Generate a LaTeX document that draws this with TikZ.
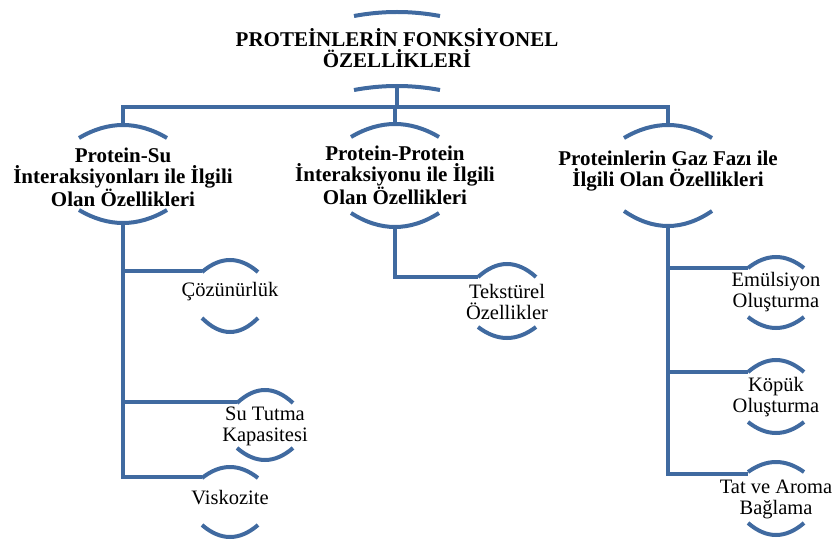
\documentclass[tikz,border=0pt]{standalone}
\usepackage{fontspec}
\setmainfont{Liberation Serif}
\definecolor{smblue}{RGB}{64,106,160}
\newcommand\toparc[4]{% cx, apex y, half width, sag (frown)
  \draw[arcline] (#1-#3,#2+#4) .. controls (#1-#3/3,#2-#4/3) and (#1+#3/3,#2-#4/3) .. (#1+#3,#2+#4);}
\newcommand\botarc[4]{% cx, apex y, half width, sag (smile)
  \draw[arcline] (#1-#3,#2-#4) .. controls (#1-#3/3,#2+#4/3) and (#1+#3/3,#2+#4/3) .. (#1+#3,#2-#4);}
\begin{document}
\begin{tikzpicture}[x=1pt,y=-1pt,
  arcline/.style={draw=smblue,line width=4pt},
  conn/.style={draw=smblue,line width=4.2pt,line join=miter},
  hdr/.style={font=\bfseries\fontsize{21}{21}\selectfont,align=center,inner sep=0pt},
  lbl/.style={font=\fontsize{20.5}{21}\selectfont,align=center,inner sep=0pt}]
\useasboundingbox (0,0) rectangle (837,545);
% ---- text nodes
\node[hdr] (root) at (397,48) {PROTEİNLERİN FONKSİYONEL\\ÖZELLİKLERİ};
\node[hdr] (n1) at (123,177) {Protein-Su\\İnteraksiyonları ile İlgili\\Olan Özellikleri};
\node[hdr] (n2) at (395,175) {Protein-Protein\\İnteraksiyonu ile İlgili\\Olan Özellikleri};
\node[hdr] (n3) at (668,171) {Proteinlerin Gaz Fazı ile\\İlgili Olan Özellikleri};
\node[lbl] (c1) at (230,292) {Çözünürlük};
\node[lbl] (c2) at (265,426) {Su Tutma\\Kapasitesi};
\node[lbl] (c3) at (230,498) {Viskozite};
\node[lbl] (d1) at (507,302) {Tekstürel\\Özellikler};
\node[lbl] (e1) at (776,292) {Emülsiyon\\Oluşturma};
\node[lbl] (e2) at (776,397) {Köpük\\Oluşturma};
\node[lbl] (e3) at (776,499) {Tat ve Aroma\\Bağlama};
% ---- arcs (node outlines)
\toparc{397}{12}{43}{4}  \toparc{397}{86}{43}{4}
\toparc{123}{125}{44}{13} \botarc{123}{223}{44}{13}
\toparc{395}{124}{44}{13} \botarc{395}{227}{44}{14}
\toparc{668}{125}{44}{13} \botarc{668}{226}{44}{15}
\toparc{230}{260}{28}{12} \botarc{230}{332}{28}{14}
\toparc{265}{390}{28}{13} \botarc{265}{460}{28}{12}
\toparc{230}{467}{28}{11} \botarc{230}{537}{28}{12}
\toparc{507}{264}{29}{13} \botarc{507}{338}{29}{11}
\toparc{776}{257}{28}{11} \botarc{776}{328}{28}{11}
\toparc{776}{360}{28}{12} \botarc{776}{433}{28}{11}
\toparc{776}{462}{28}{10} \botarc{776}{535}{28}{12}
% ---- connector anchor points
\coordinate (rootb) at (397,86);
\coordinate (bus) at (397,107);
\coordinate (n1t) at (123,125); \coordinate (n1b) at (123,223);
\coordinate (n2t) at (395,124); \coordinate (n2b) at (395,227);
\coordinate (n3t) at (668,125); \coordinate (n3b) at (668,226);
\coordinate (c1l) at (202,271);
\coordinate (c2l) at (237,402);
\coordinate (c3l) at (202,477);
\coordinate (d1l) at (478,277);
\coordinate (e1l) at (748,268);
\coordinate (e2l) at (748,372);
\coordinate (e3l) at (748,474);
% ---- connectors
\draw[conn] (rootb) -- (bus);
\draw[conn] (n1t) |- (bus) -| (n3t);
\draw[conn] (n2t) -- (n2t |- bus);
\draw[conn] (n1b) |- (c3l);
\draw[conn] (n1b |- c1l) -- (c1l);
\draw[conn] (n1b |- c2l) -- (c2l);
\draw[conn] (n2b) |- (d1l);
\draw[conn] (n3b) |- (e3l);
\draw[conn] (n3b |- e1l) -- (e1l);
\draw[conn] (n3b |- e2l) -- (e2l);
\end{tikzpicture}
\end{document}
